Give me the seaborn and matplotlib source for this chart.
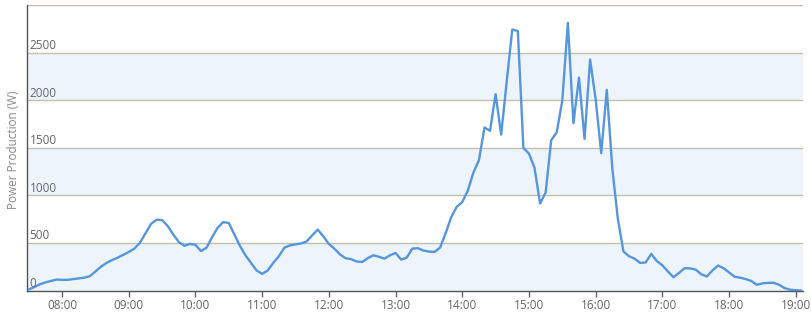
import matplotlib
matplotlib.use("Agg")
import matplotlib.pyplot as plt
import matplotlib.dates as mdates
import matplotlib.transforms as mtransforms
import seaborn as sns
import pandas as pd
import numpy as np

# ---- data (5-minute samples, 07:30 .. 19:05) ----
start_time = "2024-01-01 07:30"
power_w = [
    10, 35, 65, 85, 100, 115,            # 07:30-07:55
    112, 112, 120, 128, 135, 150,        # 08:00-08:25
    200, 250, 290, 320, 345, 375,        # 08:30-08:55
    405, 440, 500, 600, 700, 745,        # 09:00-09:25
    740, 680, 590, 510, 470, 490,        # 09:30-09:55
    480, 415, 450, 560, 660, 720,        # 10:00-10:25
    710, 590, 470, 370, 290, 210,        # 10:30-10:55
    175, 210, 290, 360, 450, 475,        # 11:00-11:25
    485, 495, 515, 580, 640, 570,        # 11:30-11:55
    490, 440, 380, 340, 330, 305,        # 12:00-12:25
    300, 340, 370, 355, 335, 370,        # 12:30-12:55
    395, 325, 345, 440, 445, 420,        # 13:00-13:25
    410, 405, 450, 600, 770, 880,        # 13:30-13:55
    930, 1050, 1240, 1370, 1715, 1680,   # 14:00-14:25
    2065, 1640, 2200, 2745, 2730, 1500,  # 14:30-14:55
    1440, 1290, 915, 1030, 1580, 1665,   # 15:00-15:25
    2000, 2815, 1760, 2240, 1595, 2430,  # 15:30-15:55
    2010, 1445, 2110, 1280, 750, 410,    # 16:00-16:25
    360, 335, 290, 295, 385, 310,        # 16:30-16:55
    265, 200, 140, 185, 235, 232,        # 17:00-17:25
    220, 170, 148, 210, 262, 235,        # 17:30-17:55
    190, 145, 135, 120, 100, 60,         # 18:00-18:25
    75, 80, 82, 60, 25, 8,               # 18:30-18:55
    3, 0,                                # 19:00-19:05
]
times = pd.date_range(start_time, periods=len(power_w), freq="5min")
y_ticks = [0, 500, 1000, 1500, 2000, 2500]
x_tick_labels = ["08:00", "09:00", "10:00", "11:00", "12:00", "13:00",
                 "14:00", "15:00", "16:00", "17:00", "18:00", "19:00"]
y_label = "Power Production (W)"

df = pd.DataFrame({"time": times, "power": power_w})

sns.set_theme(style="white")
plt.rcParams["font.family"] = ["Open Sans", "DejaVu Sans"]

W, H = 811, 314
fig = plt.figure(figsize=(W / 100, H / 100), dpi=100)
ax = fig.add_axes([27 / W, (H - 290.5) / H, (803 - 27) / W, (290.5 - 5.3) / H])

band = "#edf4fb"
grid = "#c4c0b0"
for lo in (0, 1000, 2000):
    ax.axhspan(lo, lo + 500, color=band, zorder=0, lw=0)
for g in (500, 1000, 1500, 2000, 2500, 3000):
    ax.axhline(g, color=grid, lw=1.0, zorder=1)

sns.lineplot(data=df, x="time", y="power", ax=ax, color="#5596dd",
             lw=1.7, zorder=3)

ax.set_xlim(pd.Timestamp("2024-01-01 07:28:30"), pd.Timestamp("2024-01-01 19:06:30"))
ax.set_ylim(0, 3000)

xt = [pd.Timestamp("2024-01-01 " + s) for s in x_tick_labels]
ax.set_xticks(xt)
ax.set_xticklabels(x_tick_labels)
ax.tick_params(axis="x", direction="out", length=4, width=1, color="#666666",
               labelsize=8.5, labelcolor="#666666", pad=2, bottom=True)
ax.set_yticks([])
ax.set_xlabel("")
ax.set_ylabel("")

trans = mtransforms.blended_transform_factory(ax.transAxes, ax.transData)
for v in y_ticks:
    ax.text(2.5 / 776, v + 5, str(v), transform=trans, ha="left", va="bottom",
            fontsize=8.5, color="#666666", zorder=4)

fig.text(14 / W, 1 - 150 / H, y_label, rotation=90, ha="center", va="center",
         fontsize=8.5, color="#888888")

for s in ("top", "right"):
    ax.spines[s].set_visible(False)
ax.spines["left"].set_color("#555555")
ax.spines["left"].set_linewidth(1)
ax.spines["bottom"].set_color("#555555")
ax.spines["bottom"].set_linewidth(1)
ax.set_facecolor("white")

fig.savefig("out.png", dpi=100)
